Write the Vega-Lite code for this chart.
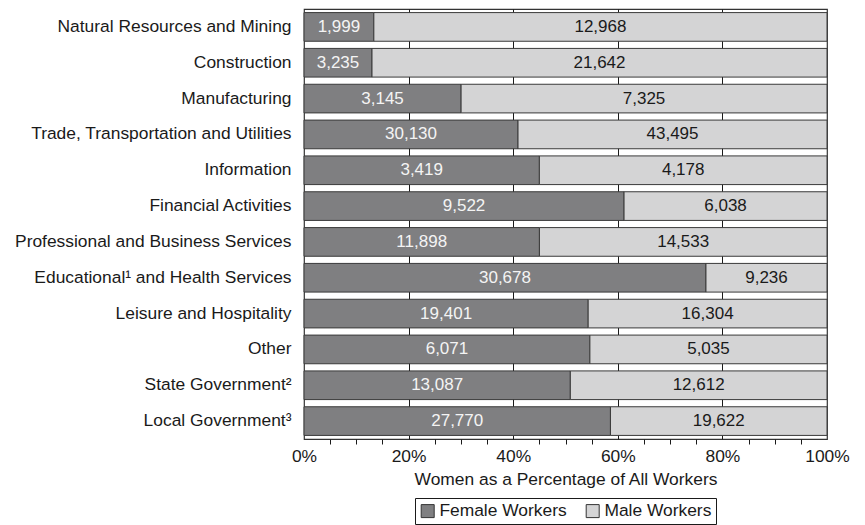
{
  "$schema": "https://vega.github.io/schema/vega-lite/v6.json",
  "autosize": "none",
  "width": 523,
  "height": 430,
  "padding": {"left": 304, "top": 9, "right": 38, "bottom": 86},
  "background": "white",
  "config": {
    "font": "Liberation Sans",
    "view": {"stroke": "#333", "strokeWidth": 1.2},
    "axis": {"labelFont": "Liberation Sans", "titleFont": "Liberation Sans"},
    "legend": {"labelFont": "Liberation Sans"}
  },
  "data": {
    "values": [
      {"industry": "Natural Resources and Mining", "gender": "Female Workers", "workers": 1999},
      {"industry": "Natural Resources and Mining", "gender": "Male Workers", "workers": 12968},
      {"industry": "Construction", "gender": "Female Workers", "workers": 3235},
      {"industry": "Construction", "gender": "Male Workers", "workers": 21642},
      {"industry": "Manufacturing", "gender": "Female Workers", "workers": 3145},
      {"industry": "Manufacturing", "gender": "Male Workers", "workers": 7325},
      {"industry": "Trade, Transportation and Utilities", "gender": "Female Workers", "workers": 30130},
      {"industry": "Trade, Transportation and Utilities", "gender": "Male Workers", "workers": 43495},
      {"industry": "Information", "gender": "Female Workers", "workers": 3419},
      {"industry": "Information", "gender": "Male Workers", "workers": 4178},
      {"industry": "Financial Activities", "gender": "Female Workers", "workers": 9522},
      {"industry": "Financial Activities", "gender": "Male Workers", "workers": 6038},
      {"industry": "Professional and Business Services", "gender": "Female Workers", "workers": 11898},
      {"industry": "Professional and Business Services", "gender": "Male Workers", "workers": 14533},
      {"industry": "Educational¹ and Health Services", "gender": "Female Workers", "workers": 30678},
      {"industry": "Educational¹ and Health Services", "gender": "Male Workers", "workers": 9236},
      {"industry": "Leisure and Hospitality", "gender": "Female Workers", "workers": 19401},
      {"industry": "Leisure and Hospitality", "gender": "Male Workers", "workers": 16304},
      {"industry": "Other", "gender": "Female Workers", "workers": 6071},
      {"industry": "Other", "gender": "Male Workers", "workers": 5035},
      {"industry": "State Government²", "gender": "Female Workers", "workers": 13087},
      {"industry": "State Government²", "gender": "Male Workers", "workers": 12612},
      {"industry": "Local Government³", "gender": "Female Workers", "workers": 27770},
      {"industry": "Local Government³", "gender": "Male Workers", "workers": 19622}
    ]
  },
  "transform": [
    {"stack": "workers", "groupby": ["industry"], "offset": "normalize", "sort": [{"field": "gender", "order": "ascending"}], "as": ["x0", "x1"]},
    {"calculate": "(datum.x0 + datum.x1) / 2", "as": "xmid"}
  ],
  "encoding": {
    "y": {
      "field": "industry",
      "type": "nominal",
      "sort": null,
      "scale": {"paddingInner": 0.2, "paddingOuter": 0.1},
      "axis": {"title": null, "ticks": false, "domain": false, "labelFontSize": 17.4, "labelColor": "#1a1a1a", "labelPadding": 13, "labelLimit": 400}
    }
  },
  "layer": [
    {
      "mark": {"type": "bar", "stroke": "#3a3a3a", "strokeWidth": 1},
      "encoding": {
        "x": {
          "field": "x0",
          "type": "quantitative",
          "scale": {"domain": [0, 1], "nice": false, "zero": true},
          "axis": {
            "title": "Women as a Percentage of All Workers",
            "titleFontSize": 17.4,
            "titleFontWeight": "normal",
            "titleColor": "#1a1a1a",
            "titlePadding": 6,
            "values": [0, 0.05, 0.1, 0.15, 0.2, 0.25, 0.3, 0.35, 0.4, 0.45, 0.5, 0.55, 0.6, 0.65, 0.7, 0.75, 0.8, 0.85, 0.9, 0.95, 1],
            "format": ".0%",
            "labelExpr": "round(datum.value * 100) % 20 == 0 ? datum.label : ''",
            "labelFontSize": 17.4,
            "labelColor": "#1a1a1a",
            "labelPadding": 3,
            "labelOverlap": false,
            "labelFlush": false,
            "domain": false,
            "tickSize": 5,
            "tickColor": {"condition": {"test": "round(datum.value * 100) % 20 == 0", "value": "transparent"}, "value": "#1a1a1a"},
            "grid": true,
            "gridColor": {"condition": {"test": "round(datum.value * 100) % 20 == 0 && datum.value > 0.01 && datum.value < 0.99", "value": "#1a1a1a"}, "value": "transparent"},
            "gridWidth": 1
          }
        },
        "x2": {"field": "x1"},
        "color": {
          "field": "gender",
          "type": "nominal",
          "scale": {"domain": ["Female Workers", "Male Workers"], "range": ["#7f7f81", "#d4d4d5"]},
          "legend": {
            "title": null,
            "orient": "none",
            "direction": "horizontal",
            "legendX": 111,
            "legendY": 489,
            "symbolType": "square",
            "symbolSize": 169,
            "symbolStrokeColor": "#333",
            "symbolStrokeWidth": 1,
            "symbolOpacity": 1,
            "labelFontSize": 17.4,
            "labelColor": "#1a1a1a",
            "labelOffset": 3,
            "columnPadding": 17,
            "strokeColor": "#1a1a1a",
            "padding": 4
          }
        }
      }
    },
    {
      "mark": {"type": "text", "fontSize": 17, "align": "center", "baseline": "middle"},
      "encoding": {
        "x": {
          "field": "xmid",
          "type": "quantitative",
          "scale": {"domain": [0, 1], "nice": false, "zero": true},
          "axis": {
            "title": "Women as a Percentage of All Workers",
            "titleFontSize": 17.4,
            "titleFontWeight": "normal",
            "titleColor": "#1a1a1a",
            "titlePadding": 6,
            "values": [0, 0.05, 0.1, 0.15, 0.2, 0.25, 0.3, 0.35, 0.4, 0.45, 0.5, 0.55, 0.6, 0.65, 0.7, 0.75, 0.8, 0.85, 0.9, 0.95, 1],
            "format": ".0%",
            "labelExpr": "round(datum.value * 100) % 20 == 0 ? datum.label : ''",
            "labelFontSize": 17.4,
            "labelColor": "#1a1a1a",
            "labelPadding": 3,
            "labelOverlap": false,
            "labelFlush": false,
            "domain": false,
            "tickSize": 5,
            "tickColor": {"condition": {"test": "round(datum.value * 100) % 20 == 0", "value": "transparent"}, "value": "#1a1a1a"},
            "grid": true,
            "gridColor": {"condition": {"test": "round(datum.value * 100) % 20 == 0 && datum.value > 0.01 && datum.value < 0.99", "value": "#1a1a1a"}, "value": "transparent"},
            "gridWidth": 1
          }
        },
        "text": {"field": "workers", "type": "quantitative", "format": ","},
        "color": {"condition": {"test": "datum.gender == 'Female Workers'", "value": "#f4f4f4"}, "value": "#1a1a1a"}
      }
    }
  ]
}
